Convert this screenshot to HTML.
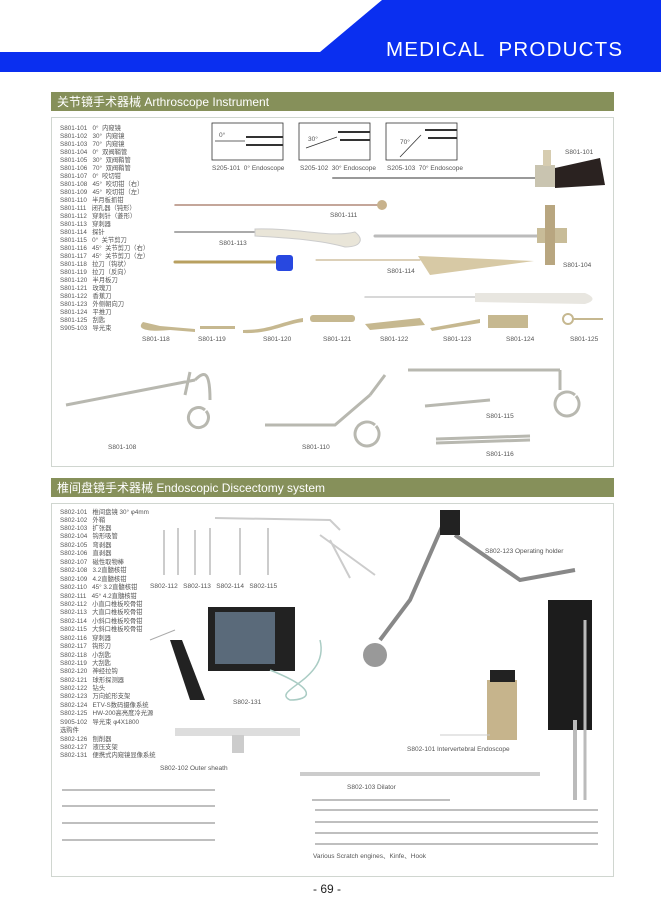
<!DOCTYPE html>
<html><head><meta charset="utf-8"><style>
body{margin:0;background:#fff;}
svg{display:block;font-family:"Liberation Sans","Noto Sans CJK SC",sans-serif;}
text{white-space:pre;}
.l{font-size:6.3px;fill:#555;}
.c{font-size:6.5px;fill:#555;}
</style></head><body>
<svg width="661" height="913" viewBox="0 0 661 913" xml:space="preserve">
<polygon points="382,0 661,0 661,72 0,72 0,52 320,52" fill="#0a2ff0"/>
<text x="386" y="56" font-size="20.5" fill="#fff" letter-spacing="1.2">MEDICAL  PRODUCTS</text>
<rect x="51" y="92" width="563" height="19" fill="#86905a"/>
<text x="57" y="106" font-size="12" fill="#fff">关节镜手术器械 Arthroscope Instrument</text>
<rect x="51.5" y="117.5" width="562" height="349" fill="none" stroke="#d0d6d0"/>
<g class="l">
<text x="60" y="130">S801-101   0°  内窥镜</text>
<text x="60" y="138">S801-102   30°  内窥镜</text>
<text x="60" y="146">S801-103   70°  内窥镜</text>
<text x="60" y="154">S801-104   0°  双阀鞘管</text>
<text x="60" y="162">S801-105   30°  双阀鞘管</text>
<text x="60" y="170">S801-106   70°  双阀鞘管</text>
<text x="60" y="178">S801-107   0°  咬切钳</text>
<text x="60" y="186">S801-108   45°  咬切钳（右）</text>
<text x="60" y="194">S801-109   45°  咬切钳（左）</text>
<text x="60" y="202">S801-110   半月板抓钳</text>
<text x="60" y="210">S801-111   闭孔器（钝形）</text>
<text x="60" y="218">S801-112   穿刺针（菱形）</text>
<text x="60" y="226">S801-113   穿刺器</text>
<text x="60" y="234">S801-114   探针</text>
<text x="60" y="242">S801-115   0°  关节剪刀</text>
<text x="60" y="250">S801-116   45°  关节剪刀（右）</text>
<text x="60" y="258">S801-117   45°  关节剪刀（左）</text>
<text x="60" y="266">S801-118   拉刀（钩状）</text>
<text x="60" y="274">S801-119   拉刀（反向）</text>
<text x="60" y="282">S801-120   半月板刀</text>
<text x="60" y="290">S801-121   玫瑰刀</text>
<text x="60" y="298">S801-122   香蕉刀</text>
<text x="60" y="306">S801-123   外侧朝向刀</text>
<text x="60" y="314">S801-124   平推刀</text>
<text x="60" y="322">S801-125   刮匙</text>
<text x="60" y="330">S905-103   导光束</text>
</g>
<g fill="none" stroke="#333" stroke-width="0.8">
<rect x="212" y="123" width="71" height="37"/><rect x="299" y="123" width="71" height="37"/><rect x="386" y="123" width="71" height="37"/>
<line x1="246" y1="137" x2="283" y2="137" stroke-width="2"/><line x1="246" y1="145" x2="283" y2="145" stroke-width="2"/>
<line x1="338" y1="132" x2="370" y2="132" stroke-width="2"/><line x1="340" y1="140" x2="370" y2="140" stroke-width="2"/>
<line x1="425" y1="130" x2="457" y2="130" stroke-width="2"/><line x1="428" y1="138" x2="457" y2="138" stroke-width="2"/>
<line x1="245" y1="141" x2="215" y2="141"/><line x1="337" y1="137" x2="306" y2="148"/><line x1="421" y1="135" x2="400" y2="157"/>
</g>
<g class="c" font-size="5.5"><text x="219" y="137">0°</text><text x="308" y="141">30°</text><text x="400" y="144">70°</text>
<text x="212" y="170">S205-101  0° Endoscope</text><text x="300" y="170">S205-102  30° Endoscope</text><text x="387" y="170">S205-103  70° Endoscope</text></g>
<g stroke-linecap="round">
<line x1="333" y1="178" x2="540" y2="178" stroke="#999" stroke-width="2"/>
<rect x="535" y="165" width="20" height="22" fill="#c9c4b0"/><polygon points="555,168 600,158 605,185 555,188" fill="#2a2220"/>
<rect x="543" y="150" width="8" height="16" fill="#d6ccb0"/>
<line x1="175" y1="205" x2="378" y2="205" stroke="#b08878" stroke-width="1.5"/><circle cx="382" cy="205" r="5" fill="#c8b28c"/>
<line x1="175" y1="232" x2="260" y2="232" stroke="#aaa" stroke-width="2"/><path d="M255,229 C300,228 330,238 355,232 C365,240 360,247 345,247 C320,240 290,238 255,236Z" fill="#e9e5d8" stroke="#ccc"/>
<line x1="375" y1="236" x2="540" y2="236" stroke="#bbb" stroke-width="3"/><rect x="537" y="228" width="30" height="15" fill="#c8bc98"/>
<rect x="545" y="205" width="10" height="60" fill="#b8a680"/>
<line x1="175" y1="262" x2="275" y2="262" stroke="#b8a060" stroke-width="3"/><rect x="276" y="255" width="17" height="16" rx="3" fill="#2848e0"/>
<line x1="316" y1="260" x2="420" y2="260" stroke="#b8a070" stroke-width="1"/><polygon points="418,256 534,261 430,275" fill="#d7c9a5"/>
<line x1="365" y1="297" x2="475" y2="297" stroke="#ccc" stroke-width="1.5"/><path d="M475,293 L585,293 C595,297 595,301 585,304 L475,302Z" fill="#e8e6e0"/>
</g>
<g class="c"><text x="565" y="154">S801-101</text><text x="330" y="217">S801-111</text><text x="219" y="245">S801-113</text><text x="387" y="273">S801-114</text><text x="563" y="267">S801-104</text></g>
<g fill="#c6b890">
<path d="M143,322 C135,330 150,332 170,330 L195,332 L195,329 L160,326Z"/>
<rect x="200" y="326" width="35" height="3"/><path d="M243,330 C270,330 280,322 303,318 L303,322 C285,324 270,334 243,333Z"/>
<rect x="310" y="315" width="45" height="7" rx="3"/><polygon points="365,324 420,318 425,325 370,330"/>
<polygon points="430,328 480,319 480,323 432,331"/><rect x="488" y="315" width="40" height="13"/><circle cx="568" cy="319" r="5" fill="none" stroke="#c6b890" stroke-width="2"/><rect x="573" y="318" width="30" height="2"/>
</g>
<g class="c"><text x="142" y="341">S801-118</text><text x="198" y="341">S801-119</text><text x="263" y="341">S801-120</text><text x="323" y="341">S801-121</text><text x="380" y="341">S801-122</text><text x="443" y="341">S801-123</text><text x="506" y="341">S801-124</text><text x="570" y="341">S801-125</text></g>
<g fill="none" stroke="#b8b8b0" stroke-width="3">
<path d="M66,405 L195,380 M195,380 C205,370 210,372 210,400 M205,410 a10,10 0 1 0 1,1 M190,372 L185,395"/>
<path d="M265,425 L335,425 L370,395 M370,395 L385,375 M375,425 a12,12 0 1 0 1,1"/>
<path d="M408,370 L560,370 M560,370 L560,390 M575,395 a12,12 0 1 0 1,1 M425,406 L490,400"/>
<path d="M436,439 L530,436 M436,443 L530,440"/>
</g>
<g class="c"><text x="108" y="449">S801-108</text><text x="302" y="449">S801-110</text><text x="486" y="418">S801-115</text><text x="486" y="456">S801-116</text></g>
<rect x="51" y="478" width="563" height="19" fill="#86905a"/>
<text x="57" y="492" font-size="12" fill="#fff">椎间盘镜手术器械 Endoscopic Discectomy system</text>
<rect x="51.5" y="503.5" width="562" height="373" fill="none" stroke="#d0d6d0"/>
<g class="l" font-size="6">
<text x="60" y="514">S802-101   椎间盘镜 30° φ4mm</text>
<text x="60" y="522">S802-102   外鞘</text>
<text x="60" y="530">S802-103   扩张器</text>
<text x="60" y="538">S802-104   钩形吸管</text>
<text x="60" y="547">S802-105   弯剥器</text>
<text x="60" y="555">S802-106   直剥器</text>
<text x="60" y="564">S802-107   磁性取物棒</text>
<text x="60" y="572">S802-108   3.2直髓核钳</text>
<text x="60" y="581">S802-109   4.2直髓核钳</text>
<text x="60" y="589">S802-110   45° 3.2直髓核钳</text>
<text x="60" y="598">S802-111   45° 4.2直髓核钳</text>
<text x="60" y="606">S802-112   小直口椎板咬骨钳</text>
<text x="60" y="614">S802-113   大直口椎板咬骨钳</text>
<text x="60" y="623">S802-114   小斜口椎板咬骨钳</text>
<text x="60" y="631">S802-115   大斜口椎板咬骨钳</text>
<text x="60" y="640">S802-116   穿刺器</text>
<text x="60" y="648">S802-117   钩形刀</text>
<text x="60" y="657">S802-118   小刮匙</text>
<text x="60" y="665">S802-119   大刮匙</text>
<text x="60" y="673">S802-120   神经拉钩</text>
<text x="60" y="682">S802-121   球形探测器</text>
<text x="60" y="690">S802-122   钻头</text>
<text x="60" y="698">S802-123   万向蛇形支架</text>
<text x="60" y="707">S802-124   ETV-S数码摄像系统</text>
<text x="60" y="715">S802-125   HW-200高亮度冷光源</text>
<text x="60" y="724">S905-102   导光束 φ4X1800</text>
<text x="60" y="732">选购件</text>
<text x="60" y="741">S802-126   刨削器</text>
<text x="60" y="749">S802-127   液压支架</text>
<text x="60" y="757">S802-131   便携式内窥镜显像系统</text>
</g>
<g stroke="#ccc" stroke-width="2" fill="none">
<path d="M164,530 L164,575 M178,528 L178,575 M195,530 L195,575 M210,528 L210,575 M240,528 L240,575 M268,528 L268,575"/>
<path d="M215,518 L330,520 L340,530 M320,535 L375,575 M330,540 L350,578"/>
</g>
<g class="c"><text x="150" y="588">S802-112   S802-113   S802-114   S802-115</text></g>
<rect x="208" y="607" width="87" height="64" fill="#222"/><rect x="215" y="612" width="60" height="52" fill="#5a6a7a"/>
<path d="M270,670 C320,690 310,700 290,700 C270,690 330,680 320,640" fill="none" stroke="#aaccc4" stroke-width="1.5"/>
<g class="c"><text x="233" y="704">S802-131</text></g>
<line x1="150" y1="640" x2="175" y2="630" stroke="#aaa"/>
<path d="M170,640 L190,700 L205,700 L182,640Z" fill="#222"/>
<rect x="175" y="728" width="125" height="8" fill="#ddd"/><rect x="232" y="735" width="12" height="18" fill="#ccc"/>
<g class="c"><text x="160" y="770">S802-102 Outer sheath</text></g>
<g stroke="#888" stroke-width="4" fill="none"><path d="M445,520 L410,600 L380,640 M455,535 L520,580 L575,570"/></g>
<path d="M440,510 l20,0 l0,25 l-20,0Z" fill="#222"/><rect x="548" y="600" width="44" height="130" fill="#1c1c1c"/>
<line x1="575" y1="720" x2="575" y2="800" stroke="#bbb" stroke-width="4"/><line x1="585" y1="620" x2="585" y2="800" stroke="#bbb" stroke-width="3"/>
<circle cx="375" cy="655" r="12" fill="#999"/>
<g class="c"><text x="485" y="553">S802-123 Operating holder</text></g>
<rect x="487" y="680" width="30" height="60" fill="#c6b48c"/><rect x="490" y="670" width="25" height="12" fill="#222"/>
<line x1="440" y1="735" x2="490" y2="735" stroke="#ccc"/>
<g class="c"><text x="407" y="751">S802-101 Intervertebral Endoscope</text></g>
<line x1="300" y1="774" x2="540" y2="774" stroke="#ccc" stroke-width="4"/>
<g class="c"><text x="347" y="789">S802-103 Dilator</text></g>
<g stroke="#aaa" stroke-width="1.5">
<line x1="62" y1="790" x2="215" y2="790"/><line x1="62" y1="806" x2="215" y2="806"/><line x1="62" y1="823" x2="215" y2="823"/><line x1="62" y1="840" x2="215" y2="840"/>
<line x1="312" y1="800" x2="450" y2="800"/><line x1="315" y1="810" x2="598" y2="810"/><line x1="315" y1="822" x2="598" y2="822"/><line x1="315" y1="833" x2="598" y2="833"/><line x1="315" y1="844" x2="598" y2="844"/>
</g>
<text x="313" y="858" class="c">Various Scratch engines、Kinfe、Hook</text>
<text x="313" y="893" font-size="12" fill="#222">- 69 -</text>
</svg>
</body></html>
